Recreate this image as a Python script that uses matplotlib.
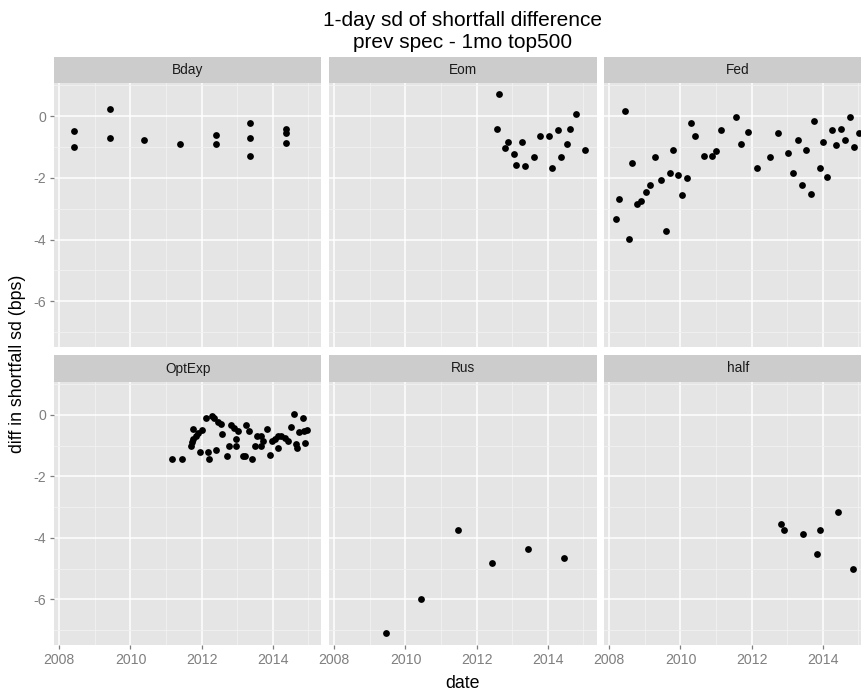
import matplotlib
matplotlib.use('Agg')
import matplotlib.pyplot as plt
from matplotlib.ticker import FixedLocator

plt.rcParams['font.family'] = ['Liberation Sans', 'DejaVu Sans']

# ---------------- data (decimal year, diff in bps) ----------------
facet_names = ['Bday', 'Eom', 'Fed', 'OptExp', 'Rus', 'half']

bday_date = [2008.41, 2008.41, 2009.42, 2009.42, 2010.38, 2011.39, 2012.40, 2012.40,
             2013.37, 2013.37, 2013.37, 2014.37, 2014.37, 2014.37]
bday_diff = [-0.48, -1.00, 0.22, -0.71, -0.77, -0.91, -0.62, -0.91,
             -0.23, -0.71, -1.30, -0.41, -0.56, -0.86]

eom_date = [2012.56, 2012.64, 2012.81, 2012.89, 2013.06, 2013.10, 2013.28, 2013.35,
            2013.61, 2013.78, 2014.03, 2014.12, 2014.29, 2014.37, 2014.54, 2014.62,
            2014.79, 2015.05]
eom_diff = [-0.42, 0.70, -1.05, -0.85, -1.24, -1.59, -0.85, -1.63,
            -1.34, -0.66, -0.66, -1.69, -0.46, -1.34, -0.91, -0.42,
            0.07, -1.10]

fed_date = [2008.18, 2008.27, 2008.44, 2008.56, 2008.64, 2008.77, 2008.89, 2009.03,
            2009.15, 2009.28, 2009.45, 2009.58, 2009.70, 2009.78, 2009.92, 2010.04,
            2010.17, 2010.29, 2010.42, 2010.67, 2010.88, 2011.01, 2011.13, 2011.55,
            2011.69, 2011.89, 2012.14, 2012.52, 2012.73, 2013.03, 2013.15, 2013.29,
            2013.41, 2013.54, 2013.66, 2013.74, 2013.91, 2014.00, 2014.13, 2014.25,
            2014.38, 2014.50, 2014.63, 2014.76, 2014.89, 2015.01]
fed_diff = [-3.34, -2.70, 0.16, -3.98, -1.53, -2.85, -2.76, -2.46,
            -2.22, -1.34, -2.06, -3.73, -1.83, -1.10, -1.92, -2.56,
            -2.02, -0.22, -0.66, -1.30, -1.30, -1.14, -0.46, -0.02,
            -0.91, -0.51, -1.69, -1.34, -0.56, -1.20, -1.83, -0.76,
            -2.22, -1.10, -2.51, -0.17, -1.69, -0.85, -1.98, -0.46,
            -0.95, -0.41, -0.76, -0.02, -0.99, -0.56]

optexp_date = [2011.18, 2011.44, 2011.69, 2011.72, 2011.76, 2011.76, 2011.84, 2011.90,
               2011.95, 2012.00, 2012.12, 2012.18, 2012.20, 2012.28, 2012.35, 2012.40,
               2012.46, 2012.54, 2012.56, 2012.70, 2012.76, 2012.82, 2012.90, 2012.96,
               2012.98, 2013.02, 2013.16, 2013.21, 2013.26, 2013.32, 2013.41, 2013.49,
               2013.57, 2013.66, 2013.68, 2013.72, 2013.83, 2013.91, 2013.97, 2014.05,
               2014.16, 2014.16, 2014.24, 2014.33, 2014.42, 2014.50, 2014.59, 2014.66,
               2014.67, 2014.73, 2014.84, 2014.89, 2014.91, 2014.97]
optexp_diff = [-1.43, -1.43, -1.00, -0.89, -0.45, -0.78, -0.67, -0.59,
               -1.19, -0.49, -0.09, -1.19, -1.43, -0.02, -0.09, -1.14,
               -0.24, -0.30, -0.63, -1.32, -1.00, -0.32, -0.43, -0.78,
               -1.00, -0.52, -1.32, -1.35, -0.32, -0.52, -1.43, -1.00,
               -0.70, -1.00, -0.70, -0.84, -0.45, -1.30, -0.84, -0.79,
               -0.70, -1.06, -0.67, -0.74, -0.84, -0.38, 0.02, -0.95,
               -1.06, -0.54, -0.09, -0.52, -0.90, -0.49]

rus_date = [2009.44, 2010.45, 2011.47, 2012.43, 2013.44, 2014.46]
rus_diff = [-7.10, -5.97, -3.73, -4.81, -4.37, -4.66]

half_date = [2012.82, 2012.91, 2013.45, 2013.84, 2013.91, 2014.42, 2014.85]
half_diff = [-3.54, -3.73, -3.87, -4.51, -3.73, -3.15, -5.00]

x_ticks = [2008, 2010, 2012, 2014]
x_tick_labels = ['2008', '2010', '2012', '2014']
x_minor = [2009, 2011, 2013, 2015]
y_ticks = [0, -2, -4, -6]
y_tick_labels = ['0', '-2', '-4', '-6']
y_minor = [1, -1, -3, -5, -7]

title = '1-day sd of shortfall difference\nprev spec - 1mo top500'
x_label = 'date'
y_label = 'diff in shortfall sd (bps)'

series = [(bday_date, bday_diff), (eom_date, eom_diff), (fed_date, fed_diff),
          (optexp_date, optexp_diff), (rus_date, rus_diff), (half_date, half_diff)]

# ---------------- layout ----------------
W, H = 862, 692
fig = plt.figure(figsize=(W / 100, H / 100), dpi=100)
fig.patch.set_facecolor('white')

col_left = [54, 329, 604]
col_w = 267.5
rows = [(57, 83, 347), (355, 382, 645)]  # strip top, panel top, panel bottom

xlim = (2007.85, 2015.37)
ylim = (-7.48, 1.07)
grey50 = '#7F7F7F'

def fig_rect(x0, y_top, w, y_bot):
    return [x0 / W, 1 - y_bot / H, w / W, (y_bot - y_top) / H]

for i, (name, (xs, ys)) in enumerate(zip(facet_names, series)):
    r, c = divmod(i, 3)
    st, pt, pb = rows[r]
    ax = fig.add_axes(fig_rect(col_left[c], pt, col_w, pb))
    ax.set_facecolor('#E5E5E5')
    for s in ax.spines.values():
        s.set_visible(False)
    ax.set_xlim(*xlim)
    ax.set_ylim(*ylim)
    ax.xaxis.set_major_locator(FixedLocator(x_ticks))
    ax.xaxis.set_minor_locator(FixedLocator(x_minor))
    ax.yaxis.set_major_locator(FixedLocator(y_ticks))
    ax.yaxis.set_minor_locator(FixedLocator(y_minor))
    ax.grid(which='major', color='white', linewidth=1.1)
    ax.grid(which='minor', color='#F2F2F2', linewidth=0.6)
    ax.set_axisbelow(True)
    ax.tick_params(which='minor', length=0)
    ax.tick_params(which='major', colors=grey50, labelcolor=grey50,
                   labelsize=10.2, length=3.2, width=0.9, pad=2.5)
    if r == 1:
        ax.set_xticklabels(x_tick_labels)
    else:
        ax.tick_params(axis='x', which='major', length=0, labelbottom=False)
    if c == 0:
        ax.set_yticklabels(y_tick_labels)
    else:
        ax.tick_params(axis='y', which='major', length=0, labelleft=False)
    ax.scatter(xs, ys, s=24, color='black', linewidths=0, zorder=3)

    sax = fig.add_axes(fig_rect(col_left[c], st, col_w, pt))
    sax.set_facecolor('#CCCCCC')
    sax.set_xticks([])
    sax.set_yticks([])
    for s in sax.spines.values():
        s.set_visible(False)
    sax.text(0.5, 0.5, name, ha='center', va='center', fontsize=9.8,
             color='#1A1A1A', transform=sax.transAxes)

fig.text(463 / W, 1 - 32 / H, title, ha='center', va='center', fontsize=15,
         color='black', linespacing=1.2)
fig.text(463 / W, 1 - 683 / H, x_label, ha='center', va='center', fontsize=12.8,
         color='black')
fig.text(18 / W, 1 - 364 / H, y_label, ha='center', va='center', fontsize=12.8,
         color='black', rotation=90)

fig.savefig('out.png', dpi=100, facecolor='white')
